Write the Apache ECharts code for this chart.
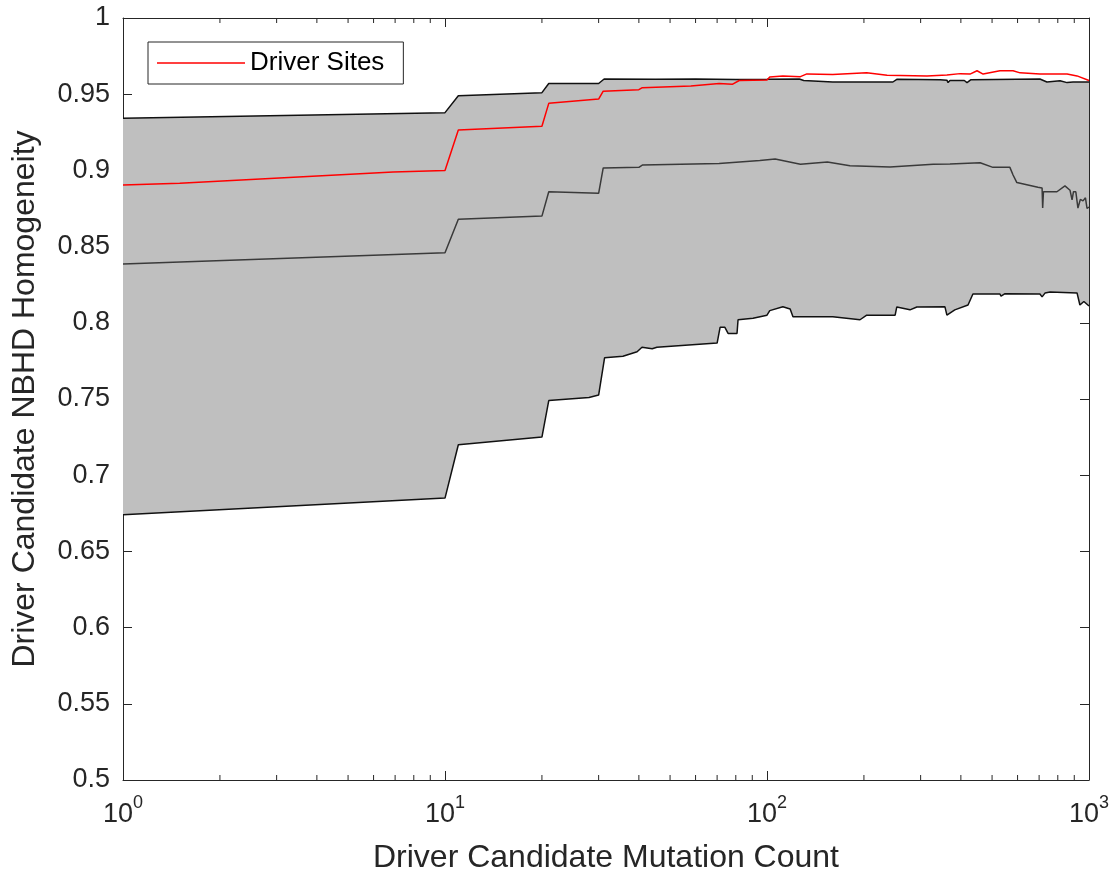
<!DOCTYPE html>
<html><head><meta charset="utf-8">
<script src="https://cdn.jsdelivr.net/npm/echarts@6/dist/echarts.min.js"></script>
<style>html,body{margin:0;padding:0;background:#fff}#c{width:1119px;height:884px}</style>
</head><body><div id="c"></div>
<script>
// ---- data ----
const upperBound = [[1,0.9342],[10,0.9379],[11,0.949],[20,0.951],[21,0.957],[30,0.957],[31.2,0.960],[45,0.9598],[60,0.960],[80,0.9597],[100,0.9598],[126,0.960],[130,0.959],[160,0.958],[168,0.958],[246,0.958],[253,0.9598],[345,0.9595],[362,0.9592],[365,0.9576],[370,0.959],[410,0.959],[418,0.9576],[430,0.9595],[436,0.960],[704,0.960],[740,0.958],[813,0.9588],[855,0.9576],[892,0.958],[1000,0.958]];
const lowerBound = [[1,0.674],[10,0.685],[11,0.720],[20,0.725],[21,0.749],[28,0.751],[30,0.7526],[31.3,0.777],[35.7,0.778],[39.5,0.781],[40.9,0.784],[44,0.783],[45.5,0.784],[70,0.7867],[71.5,0.797],[74,0.797],[75.7,0.793],[80.7,0.793],[81.3,0.802],[90.5,0.803],[100,0.805],[102,0.808],[112,0.8105],[118,0.809],[120.4,0.804],[160,0.804],[194.5,0.802],[204,0.805],[250,0.805],[253,0.8104],[278,0.8085],[292,0.8104],[357,0.8105],[362,0.805],[383,0.8085],[421,0.8117],[436,0.8189],[529,0.8189],[533,0.8175],[547,0.819],[704,0.8189],[715,0.817],[730,0.8195],[757,0.8202],[918,0.8196],[937,0.8117],[964,0.814],[1000,0.811]];
const middleLine = [[1,0.8386],[10,0.846],[11,0.868],[20,0.870],[21,0.886],[30,0.885],[31,0.9016],[40,0.902],[41,0.9035],[71,0.9045],[95,0.9065],[106,0.9075],[127,0.904],[154,0.9055],[181,0.903],[241,0.9022],[328,0.904],[370,0.9042],[459,0.905],[503,0.902],[568,0.902],[581,0.897],[597,0.892],[694,0.889],[715,0.8885],[718,0.8753],[722,0.886],[795,0.886],[842,0.8898],[873,0.887],[886,0.8806],[895,0.886],[910,0.886],[924,0.8753],[940,0.881],[958,0.880],[975,0.882],[986,0.875],[1000,0.876]];
const driverSites = [[1,0.8905],[1.5,0.8915],[6.9,0.899],[10,0.900],[11,0.9265],[20,0.929],[21,0.944],[30,0.9468],[31,0.952],[40,0.953],[41,0.9543],[58,0.9554],[71,0.957],[78,0.9565],[82,0.959],[100,0.9593],[102,0.9613],[112,0.962],[127,0.9615],[133,0.9633],[160,0.963],[204,0.9641],[236,0.9624],[314,0.962],[362,0.9626],[398,0.9635],[427,0.9632],[449,0.9654],[469,0.9632],[529,0.9654],[581,0.9654],[611,0.964],[704,0.9633],[855,0.9633],[918,0.962],[1000,0.959]];
const xMinorTicks = [2,3,4,5,6,7,8,9,20,30,40,50,60,70,80,90,200,300,400,500,600,700,800,900];
const yMin = 0.5, yMax = 1, yStep = 0.05;
const xMin = 1, xMax = 1000;

const FONT = '"Liberation Sans", Arial, Helvetica, sans-serif';
const AX = '#262626';
const chart = echarts.init(document.getElementById('c'));

function bandItem(params, api) {
  const pts = [];
  upperBound.forEach(p => pts.push(api.coord(p)));
  for (let i = lowerBound.length - 1; i >= 0; i--) pts.push(api.coord(lowerBound[i]));
  return {type: 'polygon', shape: {points: pts}, style: {fill: '#bfbfbf', stroke: null}};
}
function minorTickItem(params, api) {
  const v = api.value(0);
  const b = api.coord([v, yMin]);
  const t = api.coord([v, yMax]);
  return {type: 'group', children: [
    {type: 'line', shape: {x1: b[0], y1: b[1], x2: b[0], y2: b[1] - 5}, style: {stroke: AX, lineWidth: 1}},
    {type: 'line', shape: {x1: t[0], y1: t[1], x2: t[0], y2: t[1] + 5}, style: {stroke: AX, lineWidth: 1}}
  ]};
}

const xBase = {
  type: 'log', logBase: 10, min: xMin, max: xMax,
  axisLine: {show: true, onZero: false, lineStyle: {color: AX, width: 1}},
  axisTick: {show: true, inside: true, length: 9, lineStyle: {color: AX, width: 1}},
  splitLine: {show: false}, minorTick: {show: false}
};
const yBase = {
  type: 'value', min: yMin, max: yMax, interval: yStep,
  axisLine: {show: true, onZero: false, lineStyle: {color: AX, width: 1}},
  axisTick: {show: true, inside: true, length: 9, lineStyle: {color: AX, width: 1}},
  splitLine: {show: false}
};

chart.setOption({
  animation: false,
  backgroundColor: '#fff',
  grid: {left: 123, right: 30, top: 18, bottom: 104, containLabel: false},
  legend: {
    data: [{name: 'Driver Sites', icon: 'rect'}], left: 148, top: 42,
    itemWidth: 88, itemHeight: 1.6, padding: [8, 19, 8, 9],
    borderColor: AX, borderWidth: 1, backgroundColor: '#fff',
    textStyle: {fontSize: 26, color: '#000', fontFamily: FONT}
  },
  xAxis: [
    Object.assign({}, xBase, {
      position: 'bottom',
      name: 'Driver Candidate Mutation Count', nameLocation: 'middle', nameGap: 62,
      nameTextStyle: {fontSize: 32, color: AX, fontFamily: FONT},
      axisLabel: {
        margin: 14,
        formatter: v => '{b|10}{s|' + Math.round(Math.log10(v)) + '}',
        rich: {
          b: {fontSize: 27, color: AX, fontFamily: FONT, lineHeight: 34, verticalAlign: 'bottom'},
          s: {fontSize: 18, color: AX, fontFamily: FONT, lineHeight: 18, verticalAlign: 'top'}
        }
      }
    }),
    Object.assign({}, xBase, {position: 'top', axisLabel: {show: false}})
  ],
  yAxis: [
    Object.assign({}, yBase, {
      position: 'left',
      name: 'Driver Candidate NBHD Homogeneity', nameLocation: 'middle', nameGap: 82,
      nameTextStyle: {fontSize: 32, color: AX, fontFamily: FONT},
      axisLabel: {margin: 13, fontSize: 27, color: AX, fontFamily: FONT}
    }),
    Object.assign({}, yBase, {position: 'right', axisLabel: {show: false}})
  ],
  series: [
    {type: 'custom', name: 'band', renderItem: bandItem, data: [[xMin, yMin]], clip: true, silent: true, z: 1},
    {type: 'line', name: 'upper', data: upperBound, symbol: 'none', lineStyle: {color: '#111', width: 1.5}, z: 3, silent: true},
    {type: 'line', name: 'lower', data: lowerBound, symbol: 'none', lineStyle: {color: '#111', width: 1.5}, z: 3, silent: true},
    {type: 'line', name: 'middle', data: middleLine, symbol: 'none', lineStyle: {color: '#3a3a3a', width: 1.5}, z: 3, silent: true},
    {type: 'line', name: 'Driver Sites', data: driverSites, symbol: 'none', lineStyle: {color: '#ff0000', width: 1.5}, itemStyle: {color: '#ff0000'}, z: 4},
    {type: 'custom', name: 'minorTicks', renderItem: minorTickItem, data: xMinorTicks.map(v => [v, yMin]), silent: true, z: 5}
  ]
});
</script></body></html>
